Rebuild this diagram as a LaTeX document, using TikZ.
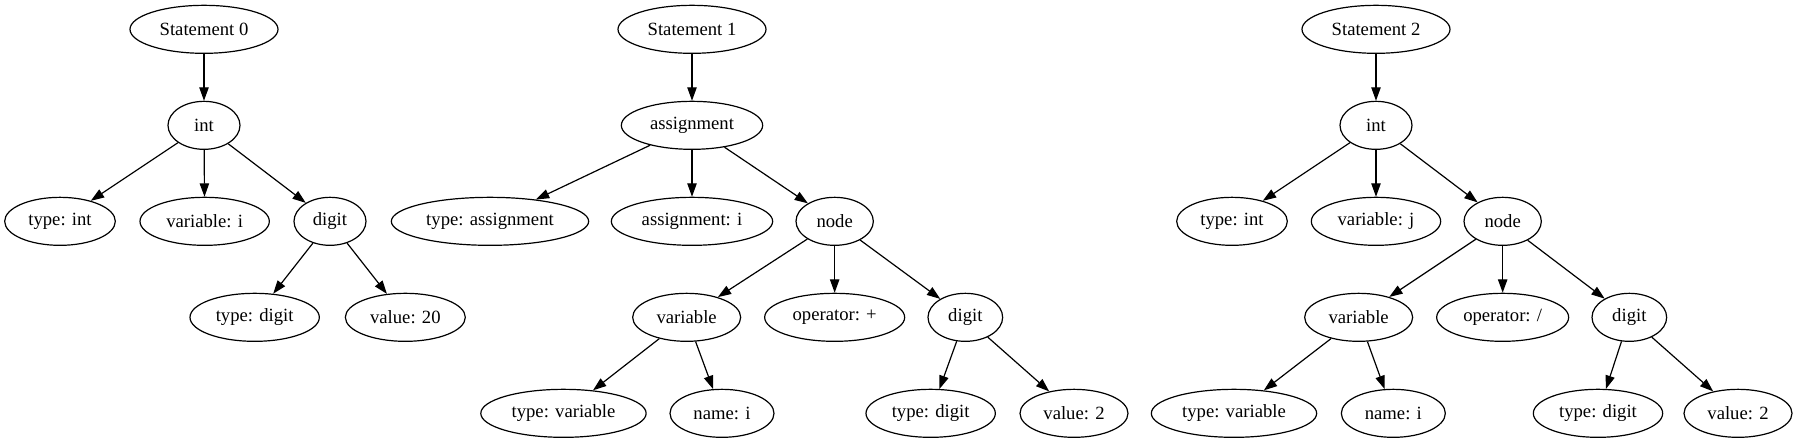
\documentclass[tikz,border=0pt]{standalone}
\usepackage{fontspec}
\setmainfont{Liberation Serif}
\usetikzlibrary{shapes.geometric,arrows.meta}
\begin{document}
\begin{tikzpicture}[x=1pt,y=1pt,
  el/.style={ellipse,draw,line width=0.9pt,minimum height=36pt,inner sep=0pt,font=\fontsize{14}{16}\selectfont},
  edge/.style={line width=0.9pt,-{Triangle[length=10pt,width=7pt]}}]
\useasboundingbox (0,0) rectangle (1350,332.25);
% rows
\def\ra{310.25}\def\rb{238.25}\def\rc{166.25}\def\rd{94.25}\def\re{22.25}
% Statement 0
\node[el,minimum width=111pt] (s0) at (153,\ra) {Statement 0};
\node[el,minimum width=54pt] (int0) at (153,\rb) {int};
\node[el,minimum width=83pt] (ti0) at (45,\rc) {type: int};
\node[el,minimum width=97pt] (vi0) at (153.5,\rc) {variable: i};
\node[el,minimum width=54pt] (dg0) at (247.5,\rc) {digit};
\node[el,minimum width=97pt] (td0) at (191,\rd) {type: digit};
\node[el,minimum width=90pt] (v20) at (304,\rd) {value: 20};
\draw[edge] (s0) -- (int0);
\draw[edge] (int0) -- (ti0);
\draw[edge] (int0) -- (vi0);
\draw[edge] (int0) -- (dg0);
\draw[edge] (dg0) -- (td0);
\draw[edge] (dg0) -- (v20);
% Statement 1
\node[el,minimum width=111pt] (s1) at (519,\ra) {Statement 1};
\node[el,minimum width=106pt] (as1) at (519,\rb) {assignment};
\node[el,minimum width=148pt] (ta1) at (367.5,\rc) {type: assignment};
\node[el,minimum width=121pt] (ai1) at (519,\rc) {assignment: i};
\node[el,minimum width=58pt] (nd1) at (626,\rc) {node};
\node[el,minimum width=81pt] (var1) at (515,\rd) {variable};
\node[el,minimum width=105pt] (op1) at (626,\rd) {operator: +};
\node[el,minimum width=56pt] (dg1) at (724,\rd) {digit};
\node[el,minimum width=124pt] (tv1) at (422.6,\re) {type: variable};
\node[el,minimum width=78pt] (nm1) at (541.5,\re) {name: i};
\node[el,minimum width=97pt] (td1) at (698,\re) {type: digit};
\node[el,minimum width=81pt] (v21) at (805.5,\re) {value: 2};
\draw[edge] (s1) -- (as1);
\draw[edge] (as1) -- (ta1);
\draw[edge] (as1) -- (ai1);
\draw[edge] (as1) -- (nd1);
\draw[edge] (nd1) -- (var1);
\draw[edge] (nd1) -- (op1);
\draw[edge] (nd1) -- (dg1);
\draw[edge] (var1) -- (tv1);
\draw[edge] (var1) -- (nm1);
\draw[edge] (dg1) -- (td1);
\draw[edge] (dg1) -- (v21);
% Statement 2
\node[el,minimum width=111pt] (s2) at (1032,\ra) {Statement 2};
\node[el,minimum width=54pt] (int2) at (1032,\rb) {int};
\node[el,minimum width=83pt] (ti2) at (924,\rc) {type: int};
\node[el,minimum width=97pt] (vj2) at (1032,\rc) {variable: j};
\node[el,minimum width=58pt] (nd2) at (1127,\rc) {node};
\node[el,minimum width=81pt] (var2) at (1019,\rd) {variable};
\node[el,minimum width=99pt] (op2) at (1127,\rd) {operator: /};
\node[el,minimum width=56pt] (dg2) at (1222,\rd) {digit};
\node[el,minimum width=124pt] (tv2) at (925.5,\re) {type: variable};
\node[el,minimum width=78pt] (nm2) at (1045,\re) {name: i};
\node[el,minimum width=97pt] (td2) at (1198.5,\re) {type: digit};
\node[el,minimum width=81pt] (v22) at (1303.5,\re) {value: 2};
\draw[edge] (s2) -- (int2);
\draw[edge] (int2) -- (ti2);
\draw[edge] (int2) -- (vj2);
\draw[edge] (int2) -- (nd2);
\draw[edge] (nd2) -- (var2);
\draw[edge] (nd2) -- (op2);
\draw[edge] (nd2) -- (dg2);
\draw[edge] (var2) -- (tv2);
\draw[edge] (var2) -- (nm2);
\draw[edge] (dg2) -- (td2);
\draw[edge] (dg2) -- (v22);
\end{tikzpicture}
\end{document}
